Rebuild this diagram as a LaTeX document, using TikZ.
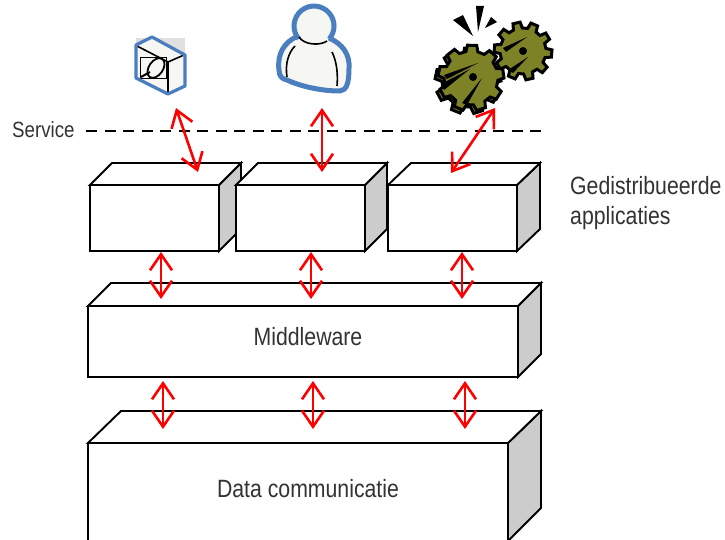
\documentclass[tikz,border=0pt]{standalone}
\usepackage{fontspec}
\setmainfont[FakeStretch=0.85]{Liberation Sans}
\usetikzlibrary{arrows.meta}
\definecolor{blueic}{HTML}{4A7EBF}
\definecolor{olive}{HTML}{7D8226}
\definecolor{sidegray}{HTML}{CCCCCC}
\definecolor{redar}{HTML}{FF0000}
\definecolor{cream}{HTML}{F6F6F2}
\tikzset{
 x=1pt,y=-1pt,
 boxline/.style={draw=black,line width=1.9pt,line join=miter},
 topface/.style={boxline,fill=white},
 sideface/.style={boxline,fill=sidegray},
 frontface/.style={boxline,fill=white,draw},
 link/.style={draw=redar,line width=2.6pt,{Straight Barb[length=16pt,width=22pt,line width=2.6pt]}-{Straight Barb[length=16pt,width=22pt,line width=2.6pt]}},
 lbl/.style={inner sep=0pt,text=black!80,font=\fontsize{25}{29}\selectfont},
 smalllbl/.style={inner sep=0pt,text=black!80,font=\fontsize{22}{26}\selectfont},
 iconline/.style={draw=black,line width=1.6pt},
 iconblue/.style={draw=blueic,line width=3.2pt,line join=round},
 personblue/.style={draw=blueic,line width=5pt,line join=round},
 gearline/.style={draw=black,line width=3pt,fill=olive,line join=miter},
}
\newcommand{\blockface}[7]{% x1 y1 x2 y2 dx dy name
 \path[sideface] (#3,#2) -- (#3+#5,#2-#6) -- (#3+#5,#4-#6) -- (#3,#4) -- cycle;
 \path[topface] (#1,#2) -- (#1+#5,#2-#6) -- (#3+#5,#2-#6) -- (#3,#2) -- cycle;
 \node[frontface,inner sep=0pt,outer sep=0pt,minimum width=#3-#1,minimum height=#4-#2,anchor=north west] (#7) at (#1,#2) {};
}
\newcommand{\gearshape}[6]{% cx cy router rinner rot teeth
 \pgfmathsetmacro{\gstep}{360/#6}
 \pgfmathtruncatemacro{\glast}{#6-1}
 \path[gearline] ({#1+#3*cos(#5+\gstep*.2)},{#2+#3*sin(#5+\gstep*.2)})
 \foreach \k in {0,...,\glast} {
   -- ({#1+#3*cos(#5+\k*\gstep+\gstep*.2)},{#2+#3*sin(#5+\k*\gstep+\gstep*.2)})
   -- ({#1+#4*cos(#5+\k*\gstep+\gstep*.32)},{#2+#4*sin(#5+\k*\gstep+\gstep*.32)})
   -- ({#1+#4*cos(#5+\k*\gstep+\gstep*.68)},{#2+#4*sin(#5+\k*\gstep+\gstep*.68)})
   -- ({#1+#3*cos(#5+\k*\gstep+\gstep*.8)},{#2+#3*sin(#5+\k*\gstep+\gstep*.8)})
 } -- cycle;
}
\begin{document}
\begin{tikzpicture}
\useasboundingbox (0,0) rectangle (725,540);
\fill[white] (0,0) rectangle (725,540);

% blocks
\begin{scope}
\clip (0,0) rectangle (725,540);
\blockface{90}{185}{219}{251}{22}{22}{app1}
\blockface{236}{185}{365}{251}{22}{22}{app2}
\blockface{388}{185}{517}{251}{23}{22}{app3}
\blockface{88}{306}{518}{377}{23}{23}{mid}
\path[sideface] (508,443) -- (541,411) -- (541,508) -- (508,541) -- cycle;
\path[topface] (88,443) -- (121,411) -- (541,411) -- (508,443) -- cycle;
\path[frontface] (88,443) rectangle (508,560);
\end{scope}
\node[lbl] (midlabel) at (308,337) {Middleware};
\node[lbl] (datalabel) at (308,489) {Data communicatie};

% service line
\node[smalllbl,anchor=west] (service) at (12,130) {Service};
\coordinate (dashend) at (541,131);
\coordinate (dashstart) at (86,131);
\draw[line width=1.8pt,dash pattern=on 11pt off 7.5pt] (dashstart) -- (dashend);

\node[lbl,anchor=west] (ged) at (570,186) {Gedistribueerde};
\node[lbl,anchor=west] (app) at (570,218) {applicaties};

% icon: cube
\fill[black!12] (136,38) rectangle (185,60);
\fill[cream] (136,45) -- (152,37) -- (185,55) -- (185,86) -- (168,94) -- (136,78) -- cycle;
\draw[iconline] (137,46) -- (168,62) -- (184,55);
\draw[iconline] (168,62) -- (168,93);
\draw[iconline,line width=1pt] (140,58) rectangle (166,79);
\draw[iconline,line width=2pt] (141,77) -- (150,72);
\draw[iconline,line width=1.8pt,rotate around={-35:(156,68)}] (156,68) ellipse (7 and 11);
\draw[iconblue] (136,45) -- (152,37) -- (185,55) -- (185,86) -- (168,94) -- (136,78) -- cycle;
\coordinate (icamera) at (176,108);

% icon: person
\fill[cream] (314,26) circle (20);
\fill[cream] (298,36) .. controls (284,42) and (277,54) .. (279,70)
 .. controls (279,76) and (282,79) .. (287,80)
 .. controls (300,86) and (320,91) .. (340,91)
 .. controls (346,90) and (349,85) .. (349,68)
 .. controls (350,55) and (343,44) .. (329,38) -- cycle;
\path[personblue] (298,36) .. controls (284,42) and (277,54) .. (279,70)
 .. controls (279,76) and (282,79) .. (287,80)
 .. controls (300,86) and (320,91) .. (340,91)
 .. controls (346,90) and (349,85) .. (349,68)
 .. controls (350,55) and (343,44) .. (329,38);
\path[personblue] (298.7,38.9) arc[start angle=140,end angle=400,radius=20];
\draw[iconline] (299,37) .. controls (304,45) and (320,46) .. (327,41);
\draw[iconline] (295,46) .. controls (288,53) and (285,65) .. (287,77);
\draw[iconline] (332,52) .. controls (337,62) and (338,75) .. (337,86);
\coordinate (iperson) at (322,108);

% icon: gears
\gearshape{523}{51}{29}{23}{5}{10}
\gearshape{468}{81}{33}{26}{-8}{9}
\gearshape{471}{78}{33}{27}{-8}{9}
\fill[black] (523,51) circle (4);
\fill[black] (473,77) circle (4);
\fill[black] (527,37) -- (506,52) -- (503,48) -- cycle;
\fill[black] (528,57) -- (513,73) -- (508,70) -- cycle;
\fill[black] (478,63) -- (447,79) -- (444,75) -- cycle;
\fill[black] (470,69) -- (444,90) -- (441,84) -- cycle;
\fill[black] (482,78) -- (467,105) -- (462,103) -- cycle;
\fill[black] (476,6) -- (484,6) -- (478,32) -- cycle;
\fill[black] (453,20) -- (463,15) -- (473,36) -- cycle;
\fill[black] (491,17) -- (497,22) -- (485,28) -- cycle;
\coordinate (igears) at (495,108);

% connectors
\coordinate (t1) at (198,172);
\coordinate (t2) at (322,172);
\coordinate (t3) at (451,173);
\draw[link] (icamera) -- (t1);
\draw[link] (iperson) -- (t2);
\draw[link] (igears) -- (t3);
\foreach \xx/\nm in {161/a,311/b,462/c} {
 \coordinate (u\nm) at (\xx,252);
 \coordinate (v\nm) at (\xx,299);
 \draw[link] (u\nm) -- (v\nm);
}
\foreach \xx/\nm in {163/a,313/b,465/c} {
 \coordinate (p\nm) at (\xx,381);
 \coordinate (q\nm) at (\xx,429);
 \draw[link] (p\nm) -- (q\nm);
}
\end{tikzpicture}
\end{document}
